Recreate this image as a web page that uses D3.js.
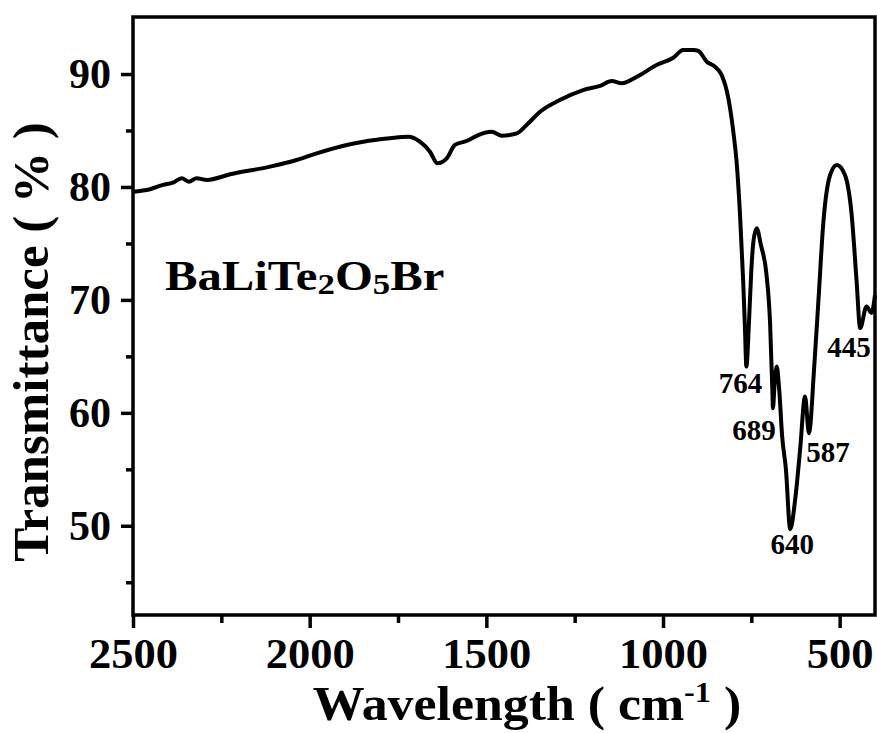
<!DOCTYPE html>
<meta charset="utf-8">
<style>
  body { margin: 0; background: #fff; }
  text { font-family: "Liberation Serif", "Times New Roman", serif; font-weight: bold; fill: #000; }
</style>
<script src="https://d3js.org/d3.v7.min.js"></script>
<div id="my_dataviz"></div>
<script>
// spectrum (wavenumber cm-1, transmittance %)
var wavenumber = [2500, 2452, 2415, 2387, 2362, 2342, 2320, 2291, 2225, 2112, 2037, 1980, 1895, 1848, 1773, 1721,
  1688, 1659, 1639, 1612, 1589, 1556, 1523, 1485, 1456, 1414, 1386, 1348, 1292, 1226, 1178, 1145, 1117, 1074,
  1018, 971, 943, 914, 900, 876, 853, 834, 815, 801, 791, 782, 773, 768, 764, 757, 750, 744, 735, 723, 707, 697,
  690, 689, 684, 678, 671, 663, 652, 640, 626, 612, 598, 587, 572, 560, 546, 527, 508, 485, 466, 452, 442, 424, 410, 400];
var transmittance = [79.58, 79.80, 80.18, 80.38, 80.77, 80.47, 80.77, 80.62, 81.12, 81.80, 82.39, 82.98, 83.72, 84.01, 84.31, 84.45,
  84.01, 83.10, 82.10, 82.54, 83.72, 84.07, 84.60, 84.89, 84.54, 84.75, 85.49, 86.66, 87.70, 88.58, 88.96, 89.38, 89.18, 89.76,
  90.80, 91.44, 92.12, 92.12, 92.04, 91.09, 90.65, 89.91, 87.85, 84.89, 81.95, 77.52, 71.62, 67.4, 64.1, 67.8, 72.65, 75.2, 76.35, 74.87, 72.21, 68.0,
  61.5, 60.4, 62.6, 64.1, 62.0, 58.0, 54.96, 49.7, 52.30, 56.73, 61.44, 58.2, 64.10, 70.00, 76.93, 81.06, 81.95, 81.06, 77.52, 71.62, 67.5, 69.42, 68.85, 70.44];

var peakWn = [764, 689, 640, 587, 445];
var peakT = [64.1, 60.4, 49.7, 58.2, 67.5];
var peakLabels = ["764", "689", "640", "587", "445"];

var xTicks = [2500, 2000, 1500, 1000, 500];
var xMinorTicks = [2250, 1750, 1250, 750];
var yTicks = [50, 60, 70, 80, 90];
var yMinorTicks = [45, 55, 65, 75, 85];

var margin = {top: 17, right: 2, bottom: 118, left: 133},
  width = 877 - margin.left - margin.right,
  height = 733 - margin.top - margin.bottom;

var svg = d3.select("#my_dataviz")
  .append("svg")
    .attr("width", 877)
    .attr("height", 733)
  .append("g")
    .attr("transform", "translate(" + margin.left + "," + margin.top + ")");

var x = d3.scaleLinear().domain([2500, 400]).range([0, width]);
var y = d3.scaleLinear().domain([42.1, 95.05]).range([height, 0]);

var data = wavenumber.map(function(w, i) { return {wn: w, t: transmittance[i]}; });

// the curve
svg.append("path")
  .datum(data)
  .attr("d", d3.line().curve(d3.curveMonotoneX)
    .x(function(d) { return x(d.wn); })
    .y(function(d) { return y(d.t); }))
  .style("fill", "none")
  .style("stroke", "#000")
  .style("stroke-width", 4)
  .style("stroke-linejoin", "round");

// frame
svg.append("rect")
  .attr("width", width).attr("height", height)
  .style("fill", "none").style("stroke", "#000").style("stroke-width", 3.5);

// x axis
var xAxis = svg.append("g").attr("transform", "translate(0," + height + ")");
xAxis.call(d3.axisBottom(x).tickValues(xTicks).tickSize(13).tickPadding(10).tickFormat(d3.format("d")));
xAxis.append("g").call(d3.axisBottom(x).tickValues(xMinorTicks).tickSize(8).tickFormat(""));
// y axis
var yAxis = svg.append("g");
yAxis.call(d3.axisLeft(y).tickValues(yTicks).tickSize(12).tickPadding(10));
yAxis.append("g").call(d3.axisLeft(y).tickValues(yMinorTicks).tickSize(7).tickFormat(""));

svg.selectAll(".domain").remove();
svg.selectAll(".tick line").style("stroke", "#000").style("stroke-width", 3.5);
xAxis.selectAll(".tick text")
  .style("font-size", "42px")
  .attr("dy", "0.71em")
  .attr("transform", "scale(1.06,1)")
  .attr("x", 0);
yAxis.selectAll(".tick text")
  .style("font-size", "42px")
  .attr("dy", "0.33em");

// axis titles
var xt = svg.append("text")
  .attr("text-anchor", "middle")
  .attr("transform", "translate(" + (527 - margin.left) + "," + (720 - margin.top) + ") scale(1.08,1)")
  .style("font-size", "48px");
xt.append("tspan").text("Wavelength ( cm");
xt.append("tspan").text("-1").style("font-size", "30px").attr("dy", -18);
xt.append("tspan").text(" )").attr("dy", 18);

svg.append("text")
  .attr("text-anchor", "middle")
  .attr("transform", "translate(" + (48 - margin.left) + "," + (342 - margin.top) + ") rotate(-90)")
  .style("font-size", "51px")
  .text("Transmittance ( % )");

// compound name
var nm = svg.append("text")
  .attr("transform", "translate(" + (165 - margin.left) + "," + (290 - margin.top) + ") scale(1.16,1)")
  .style("font-size", "42px");
nm.append("tspan").text("BaLiTe");
nm.append("tspan").text("2").style("font-size", "30px").attr("dy", 4);
nm.append("tspan").text("O").attr("dy", -4);
nm.append("tspan").text("5").style("font-size", "30px").attr("dy", 4);
nm.append("tspan").text("Br").attr("dy", -4);

// peak labels, offsets from the band minimum
var labelOffset = {"764": [-6, 26], "689": [-19, 32], "640": [2, 25], "587": [19, 29], "445": [-10, 29]};
svg.selectAll("peakLabel")
  .data(peakLabels).enter()
  .append("text")
    .attr("text-anchor", "middle")
    .attr("x", function(d, i) { return x(peakWn[i]) + labelOffset[d][0]; })
    .attr("y", function(d, i) { return y(peakT[i]) + labelOffset[d][1]; })
    .style("font-size", "29px")
    .text(function(d) { return d; });
</script>
